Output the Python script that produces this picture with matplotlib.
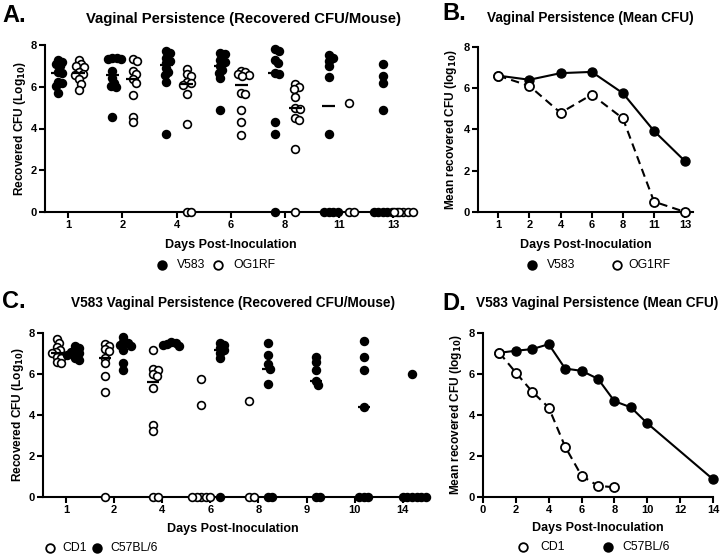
import numpy as np
import matplotlib
matplotlib.use("Agg")
import matplotlib.pyplot as plt
from matplotlib.lines import Line2D

plt.rcParams['font.family'] = ['Liberation Sans', 'DejaVu Sans']

# ---------------- data ----------------
a_days = ["1", "2", "4", "6", "8", "11", "13"]
a_v583 = [
    [7.3, 7.2, 7.1, 7.0, 6.7, 6.65, 6.25, 6.2, 6.05, 5.7],
    [7.4, 7.4, 7.35, 7.35, 6.75, 6.4, 6.2, 6.05, 6.0, 4.55],
    [7.7, 7.6, 7.4, 7.25, 7.15, 6.9, 6.7, 6.55, 6.25, 3.75],
    [7.6, 7.55, 7.3, 7.2, 7.0, 6.8, 6.65, 6.4, 4.9],
    [7.8, 7.7, 7.3, 7.15, 6.65, 6.6, 4.3, 3.75, 0],
    [7.5, 7.4, 7.25, 7.0, 6.45, 3.75, 0, 0, 0, 0],
    [7.1, 6.5, 6.2, 4.9, 0, 0, 0, 0, 0, 0],
]
a_og1rf = [
    [7.3, 7.1, 7.0, 6.95, 6.7, 6.6, 6.55, 6.35, 6.15, 5.85],
    [7.35, 7.25, 6.75, 6.6, 6.35, 6.2, 5.6, 4.55, 4.3],
    [6.85, 6.6, 6.5, 6.25, 6.2, 6.1, 5.65, 4.2, 0, 0],
    [6.75, 6.7, 6.6, 6.55, 6.5, 5.7, 5.65, 4.9, 4.3, 3.7],
    [6.15, 6.0, 5.9, 5.5, 5.0, 4.95, 4.5, 4.4, 3.0, 0],
    [5.2, 0, 0],
    [0, 0, 0, 0, 0],
]

b_days = ["1", "2", "4", "6", "8", "11", "13"]
b_v583 = [6.6, 6.4, 6.72, 6.78, 5.75, 3.92, 2.45]
b_og1rf = [6.6, 6.1, 4.8, 5.68, 4.53, 0.5, 0.0]

c_days = ["1", "2", "4", "6", "8", "9", "10", "14"]
c_cd1 = [
    [7.7, 7.5, 7.3, 7.15, 7.05, 7.0, 6.8, 6.75, 6.55, 6.5],
    [7.45, 7.35, 7.2, 7.1, 6.75, 6.5, 5.9, 5.1, 0],
    [7.15, 6.25, 6.2, 6.0, 5.9, 5.3, 3.5, 3.2, 0, 0],
    [5.75, 4.45, 0, 0, 0, 0, 0],
    [4.65, 0, 0],
    [], [], [],
]
c_c57 = [
    [7.35, 7.25, 7.1, 7.05, 7.0, 6.9, 6.75, 6.65],
    [7.8, 7.55, 7.5, 7.4, 7.35, 7.15, 6.5, 6.2],
    [7.55, 7.5, 7.45, 7.4, 7.35],
    [7.5, 7.4, 7.25, 7.15, 7.0, 6.75, 0],
    [7.5, 6.9, 6.45, 6.25, 5.5, 0, 0],
    [6.8, 6.55, 6.2, 5.65, 5.45, 0, 0],
    [7.6, 6.8, 6.2, 4.4, 0, 0, 0],
    [6.0, 0, 0, 0, 0, 0, 0],
]

d_cd1_days = [1, 2, 3, 4, 5, 6, 7, 8]
d_cd1 = [7.02, 6.05, 5.12, 4.35, 2.44, 1.02, 0.53, 0.46]
d_c57_days = [1, 2, 3, 4, 5, 6, 7, 8, 9, 10, 14]
d_c57 = [7.02, 7.12, 7.2, 7.44, 6.25, 6.14, 5.75, 4.66, 4.36, 3.58, 0.85]

# ---------------- styling helpers ----------------
W, H = 720, 555
fig = plt.figure(figsize=(W / 100, H / 100), dpi=100)

def rect(l, t, r, b):
    return [l / W, 1 - b / H, (r - l) / W, (b - t) / H]

TICKFS = 8
LABFS = 8.6
TITLEFS = 9.8
LEGFS = 8.8
LW = 1.5

def style(ax):
    for s in ['top', 'right']:
        ax.spines[s].set_visible(False)
    for s in ['left', 'bottom']:
        ax.spines[s].set_linewidth(LW)
    ax.tick_params(direction='out', length=4, width=LW, labelsize=TICKFS, pad=2)
    for lab in ax.get_xticklabels() + ax.get_yticklabels():
        lab.set_fontweight('bold')
    ax.set_ylim(0, 8)
    ax.set_yticks([0, 2, 4, 6, 8])
    ax.set_yticklabels(['0', '2', '4', '6', '8'], fontweight='bold', fontsize=TICKFS)

def swarm(ax, vals, center, d=4.6):
    trans = ax.transData
    n = len(vals)
    if n == 0:
        return []
    ypix = [trans.transform((center, v))[1] for v in vals]
    order = sorted(range(n), key=lambda i: -vals[i])
    placed = []
    offs = [0.0] * n
    for i in order:
        y = ypix[i]
        cands = [0.0]
        for ox, oy in placed:
            dy = y - oy
            if abs(dy) < d:
                dx = np.sqrt(d * d - dy * dy)
                cands += [ox + dx, ox - dx]
        cands.sort(key=abs)
        chosen = cands[-1]
        for c in cands:
            if all((c - ox) ** 2 + (y - oy) ** 2 >= d * d - 1e-6 for ox, oy in placed):
                chosen = c
                break
        offs[i] = chosen
        placed.append((chosen, y))
    xc = trans.transform((center, 0))[0]
    inv = trans.inverted()
    return [inv.transform((xc + o, 0))[0] for o in offs]

def scatter_panel(ax, groups_left, groups_right, left_filled, shift, ms=5.6):
    for gi, (gl, gr) in enumerate(zip(groups_left, groups_right)):
        for vals, side, filled in ((gl, -1, left_filled), (gr, 1, not left_filled)):
            if len(vals) == 0:
                continue
            c = gi + side * shift
            xs = swarm(ax, vals, c)
            ax.plot(xs, vals, linestyle='none', marker='o', markersize=ms,
                    markerfacecolor='black' if filled else 'white',
                    markeredgecolor='black', markeredgewidth=1.2, clip_on=False, zorder=3)
            med = float(np.median(vals))
            if med > 0:
                ax.plot([c - 0.12, c + 0.12], [med, med], color='black', lw=1.6,
                        zorder=4, solid_capstyle='butt')

def legend_row(items, y):
    # items: (x_marker, filled, x_text, label)
    for xm, filled, xt, lab in items:
        fig.add_artist(Line2D([xm / W], [1 - y / H], transform=fig.transFigure,
                              marker='o', markersize=6.2, linestyle='none',
                              markerfacecolor='black' if filled else 'white',
                              markeredgecolor='black', markeredgewidth=1.3))
        fig.text(xt / W, 1 - y / H, lab, fontsize=LEGFS, va='center', ha='left')

# ---------------- Panel A ----------------
axA = fig.add_axes(rect(45, 45, 417, 212))
axA.set_xlim(-0.43, 6.44)
axA.set_xticks(range(len(a_days)))
axA.set_xticklabels(a_days)
style(axA)
scatter_panel(axA, a_v583, a_og1rf, True, 0.19)
axA.set_ylabel('Recovered CFU (Log$_{\\mathbf{10}}$)', fontsize=LABFS, fontweight='bold', labelpad=2)
axA.set_xlabel('Days Post-Inoculation', fontsize=LABFS + 0.4, fontweight='bold', labelpad=6)
fig.text(243 / W, 1 - 19 / H, 'Vaginal Persistence (Recovered CFU/Mouse)', fontsize=10.7,
         fontweight='bold', ha='center', va='center')
fig.text(2 / W, 1 - 15 / H, 'A.', fontsize=17, fontweight='bold', ha='left', va='center')
legend_row([(162, True, 177, 'V583'), (218, False, 233, 'OG1RF')], 265)

# ---------------- Panel B ----------------
axB = fig.add_axes(rect(478, 46.7, 693, 212))
axB.set_xlim(-0.65, 6.25)
axB.set_xticks(range(len(b_days)))
axB.set_xticklabels(b_days)
style(axB)
xb = np.arange(len(b_days))
axB.plot(xb, b_v583, color='black', lw=LW, marker='o', markersize=6.5,
         markerfacecolor='black', markeredgecolor='black', clip_on=False, zorder=3)
axB.plot(xb, b_og1rf, color='black', lw=LW, dashes=(4, 2.5), marker='o', markersize=6.5,
         markerfacecolor='white', markeredgecolor='black', markeredgewidth=1.3, clip_on=False, zorder=3)
axB.set_ylabel('Mean recovered CFU (log$_{\\mathbf{10}}$)', fontsize=LABFS, fontweight='bold', labelpad=3)
axB.set_xlabel('Days Post-Inoculation', fontsize=LABFS + 0.4, fontweight='bold', labelpad=6)
fig.text(590 / W, 1 - 18 / H, 'Vaginal Persistence (Mean CFU)', fontsize=TITLEFS,
         fontweight='bold', ha='center', va='center')
fig.text(442 / W, 1 - 13 / H, 'B.', fontsize=17, fontweight='bold', ha='left', va='center')
legend_row([(532, True, 547, 'V583'), (617, False, 628, 'OG1RF')], 265)

# ---------------- Panel C ----------------
axC = fig.add_axes(rect(43, 332.7, 423, 496.7))
axC.set_xlim(-0.48, 7.42)
axC.set_xticks(range(len(c_days)))
axC.set_xticklabels(c_days)
style(axC)
scatter_panel(axC, c_cd1, c_c57, False, 0.19)
axC.set_ylabel('Recovered CFU (Log$_{\\mathbf{10}}$)', fontsize=LABFS, fontweight='bold', labelpad=2)
axC.set_xlabel('Days Post-Inoculation', fontsize=LABFS + 0.4, fontweight='bold', labelpad=6)
fig.text(233 / W, 1 - 303 / H, 'V583 Vaginal Persistence (Recovered CFU/Mouse)', fontsize=TITLEFS,
         fontweight='bold', ha='center', va='center')
fig.text(2 / W, 1 - 302 / H, 'C.', fontsize=17, fontweight='bold', ha='left', va='center')
legend_row([(50, False, 62, 'CD1'), (97, True, 110, 'C57BL/6')], 548)

# ---------------- Panel D ----------------
axD = fig.add_axes(rect(483, 332.7, 713, 496.7))
axD.set_xlim(0, 14)
axD.set_xticks(range(0, 15, 2))
axD.set_xticklabels([str(v) for v in range(0, 15, 2)])
style(axD)
axD.plot(d_c57_days, d_c57, color='black', lw=LW, marker='o', markersize=6.5,
         markerfacecolor='black', markeredgecolor='black', clip_on=False, zorder=3)
axD.plot(d_cd1_days, d_cd1, color='black', lw=LW, dashes=(4, 2.5), marker='o', markersize=6.5,
         markerfacecolor='white', markeredgecolor='black', markeredgewidth=1.3, clip_on=False, zorder=3)
axD.set_ylabel('Mean recovered CFU (log$_{\\mathbf{10}}$)', fontsize=LABFS, fontweight='bold', labelpad=3)
axD.set_xlabel('Days Post-Inoculation', fontsize=LABFS + 0.4, fontweight='bold', labelpad=5)
fig.text(597 / W, 1 - 303 / H, 'V583 Vaginal Persistence (Mean CFU)', fontsize=TITLEFS,
         fontweight='bold', ha='center', va='center')
fig.text(442 / W, 1 - 303 / H, 'D.', fontsize=17, fontweight='bold', ha='left', va='center')
legend_row([(523, False, 540, 'CD1'), (608, True, 622, 'C57BL/6')], 547)

fig.savefig('out.png', dpi=100)
